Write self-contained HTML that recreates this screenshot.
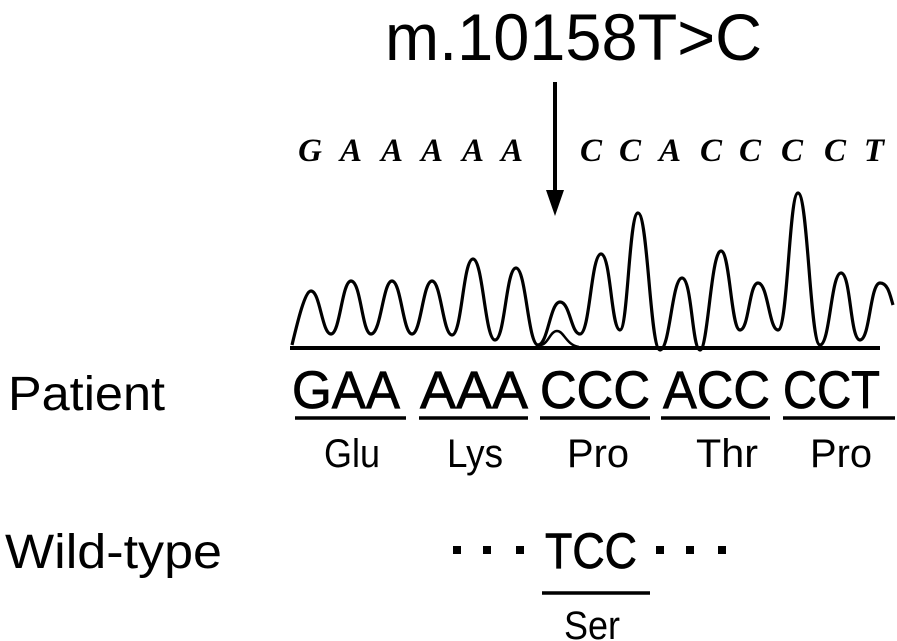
<!DOCTYPE html>
<html><head><meta charset="utf-8"><style>
html,body{margin:0;padding:0;background:#fff;}
svg{display:block;}
text{font-family:"Liberation Sans",sans-serif;fill:#000;}
.s{font-family:"Liberation Serif",serif;font-style:italic;font-weight:bold;}
.b{stroke:#000;stroke-width:0.8;}
</style></head><body>
<svg width="897" height="641" viewBox="0 0 897 641" xmlns="http://www.w3.org/2000/svg">
<text x="385" y="60" font-size="66" textLength="377" lengthAdjust="spacingAndGlyphs">m.10158T&gt;C</text>
<g font-size="33" text-anchor="middle" class="s">
<text class="s" x="310" y="161" fill="#aaa">G</text>
<text class="s" x="351" y="161">A</text>
<text class="s" x="392" y="161">A</text>
<text class="s" x="432" y="161">A</text>
<text class="s" x="473" y="161">A</text>
<text class="s" x="512" y="161">A</text>
<text class="s" x="591" y="161">C</text>
<text class="s" x="630" y="161">C</text>
<text class="s" x="670" y="161">A</text>
<text class="s" x="711" y="161">C</text>
<text class="s" x="750" y="161">C</text>
<text class="s" x="792" y="161">C</text>
<text class="s" x="835" y="161">C</text>
<text class="s" x="874" y="161">T</text>
</g>
<line x1="555" y1="82" x2="555" y2="200" stroke="#000" stroke-width="4"/>
<path d="M546 190 L555 216 L564 190 Z" fill="#000"/>
<path d="M292 345 C298 320 305 291 311 291 C320 291 322 334 331 334 C340 334 342 281 351 281 C361 281 362 334 371 334 C381 334 383 281 392 281 C401 281 403 334 412 334 C421 334 423 281 432 281 C441 281 443 335 452 335 C462 335 463 259 473 259 C483 259 485 340 495 340 C505 340 506 268 516 268 C526 268 528 345 538 345 C548 345 550 302 560 302 C570 302 571 334 580 334 C590 334 591 254 601 254 C611 254 611 330 620 330 C628 330 629 213 638 213 C648 213 650 350 660 350 C670 350 672 278 682 278 C692 278 692 350 700 350 C708 350 711 251 721 251 C730 251 731 330 740 330 C749 330 749 283 758 283 C768 283 769 330 778 330 C788 330 789 193 798 193 C808 193 810 345 820 345 C830 345 831 273 841 273 C851 273 850 340 860 340 C870 340 870 283 880 283 C888 283 890 295 893 305" fill="none" stroke="#000" stroke-width="3.2"/>
<path d="M540 345 C548 345 550 331 557 331 C564 331 566 345 579 347" fill="none" stroke="#000" stroke-width="2.5"/>
<line x1="290" y1="348" x2="880" y2="348" stroke="#000" stroke-width="4"/>
<text x="8" y="410" font-size="48" textLength="157" lengthAdjust="spacingAndGlyphs">Patient</text>
<g font-size="53" class="b">
<text class="b" x="292" y="408" textLength="108" lengthAdjust="spacingAndGlyphs">GAA</text>
<text class="b" x="420" y="408" textLength="108" lengthAdjust="spacingAndGlyphs">AAA</text>
<text class="b" x="540" y="408" textLength="110" lengthAdjust="spacingAndGlyphs">CCC</text>
<text class="b" x="663" y="408" textLength="107" lengthAdjust="spacingAndGlyphs">ACC</text>
<text class="b" x="783" y="408" textLength="97" lengthAdjust="spacingAndGlyphs">CCT</text>
</g>
<g stroke="#000" stroke-width="3.5">
<line x1="295" y1="418" x2="406" y2="418"/>
<line x1="419" y1="418" x2="528" y2="418"/>
<line x1="540" y1="418" x2="650" y2="418"/>
<line x1="661" y1="418" x2="770" y2="418"/>
<line x1="783" y1="418" x2="895" y2="418"/>
<line x1="542" y1="593" x2="650" y2="593"/>
</g>
<g font-size="40" text-anchor="middle">
<text x="352" y="467" textLength="56" lengthAdjust="spacingAndGlyphs">Glu</text>
<text x="475" y="467" textLength="56" lengthAdjust="spacingAndGlyphs">Lys</text>
<text x="598" y="467" textLength="62" lengthAdjust="spacingAndGlyphs">Pro</text>
<text x="727" y="467" textLength="62" lengthAdjust="spacingAndGlyphs">Thr</text>
<text x="841" y="467" textLength="62" lengthAdjust="spacingAndGlyphs">Pro</text>
<text x="592" y="639" textLength="56" lengthAdjust="spacingAndGlyphs">Ser</text>
</g>
<text x="5" y="568" font-size="48" textLength="217" lengthAdjust="spacingAndGlyphs">Wild-type</text>
<text class="b" x="545" y="568" font-size="50" textLength="92" lengthAdjust="spacingAndGlyphs">TCC</text>
<g fill="#000">
<rect x="453" y="546" width="8" height="8"/><rect x="483" y="546" width="8" height="8"/><rect x="516" y="546" width="8" height="8"/>
<rect x="656" y="546" width="8" height="8"/><rect x="686" y="546" width="8" height="8"/><rect x="718" y="546" width="8" height="8"/>
</g>
</svg>
</body></html>
